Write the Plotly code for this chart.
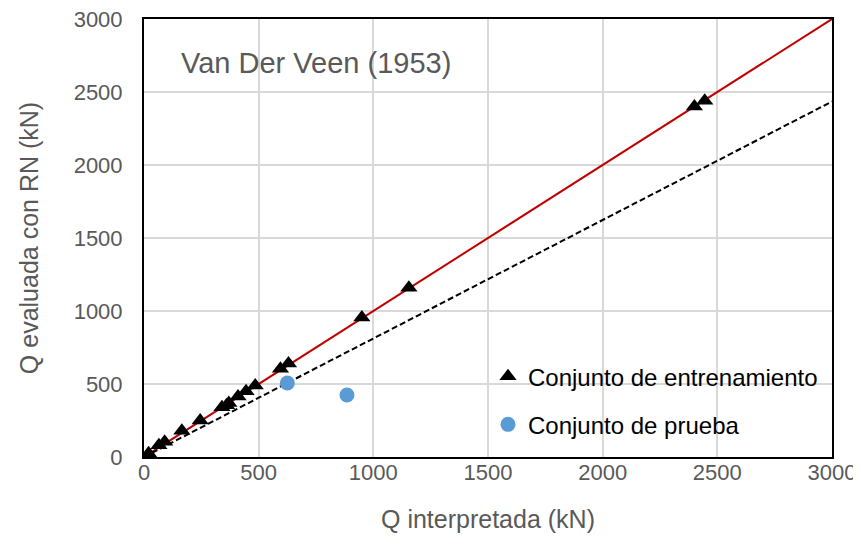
import plotly.graph_objects as go

# Training set (Conjunto de entrenamiento)
train_x = [20, 65, 90, 165, 245, 340, 360, 370, 410, 445, 485, 595, 630, 950, 1155, 2400, 2445]
train_y = [25, 80, 105, 180, 250, 340, 355, 370, 415, 450, 490, 605, 640, 955, 1160, 2400, 2440]

# Test set (Conjunto de prueba)
test_x = [625, 885]
test_y = [507, 425]

# Reference lines
line_x = [0, 3000]
ideal_y = [0, 3000]
fit_y = [0, 2435]

tick_vals = [0, 500, 1000, 1500, 2000, 2500, 3000]
tick_text = ["0", "500", "1000", "1500", "2000", "2500", "3000"]

FONT = "Liberation Sans, Arial, sans-serif"
GRAY = "#595959"

fig = go.Figure()
fig.add_trace(go.Scatter(x=line_x, y=ideal_y, mode="lines",
                         line=dict(color="#c00000", width=2), showlegend=False, hoverinfo="skip"))
fig.add_trace(go.Scatter(x=line_x, y=fit_y, mode="lines",
                         line=dict(color="black", width=2, dash="6px,3px"), showlegend=False, hoverinfo="skip"))
fig.add_trace(go.Scatter(x=train_x, y=train_y, mode="markers", name="Conjunto de entrenamiento",
                         legendgroup="a",
                         marker=dict(symbol="triangle-up", size=15, color="black")))
fig.add_trace(go.Scatter(x=test_x, y=test_y, mode="markers", name="Conjunto de prueba",
                         legendgroup="b",
                         marker=dict(symbol="circle", size=15, color="#5b9bd5")))

axis_common = dict(
    range=[0, 3000], tickvals=tick_vals, ticktext=tick_text,
    showgrid=True, gridcolor="#d9d9d9", gridwidth=1.5,
    showline=True, linecolor="black", linewidth=2, mirror=True,
    zeroline=False, ticks="", automargin=False, ticklabeloverflow="allow",
    tickfont=dict(family=FONT, size=22, color=GRAY),
)

fig.update_layout(
    width=853, height=540,
    margin=dict(l=136, r=29, t=11, b=91),
    paper_bgcolor="white", plot_bgcolor="white",
    font=dict(family=FONT, color=GRAY),
    xaxis=dict(**axis_common, ticklabelstandoff=-5,
               title=dict(text="Q interpretada (kN)", font=dict(family=FONT, size=25, color=GRAY), standoff=26)),
    yaxis=dict(**axis_common, ticklabelstandoff=15,
               title=dict(text="Q evaluada con RN (kN)", font=dict(family=FONT, size=25, color=GRAY), standoff=28)),
    legend=dict(x=0.5, xanchor="left", y=0.235, yanchor="top",
                font=dict(family=FONT, size=24, color="black"),
                bgcolor="rgba(0,0,0,0)", tracegroupgap=14, traceorder="grouped"),
    annotations=[dict(text="Van Der Veen (1953)", x=0.051, y=0.90, xref="paper", yref="paper",
                      xanchor="left", yanchor="middle", showarrow=False,
                      font=dict(family=FONT, size=29, color=GRAY))],
)

fig.write_html("out.html")
